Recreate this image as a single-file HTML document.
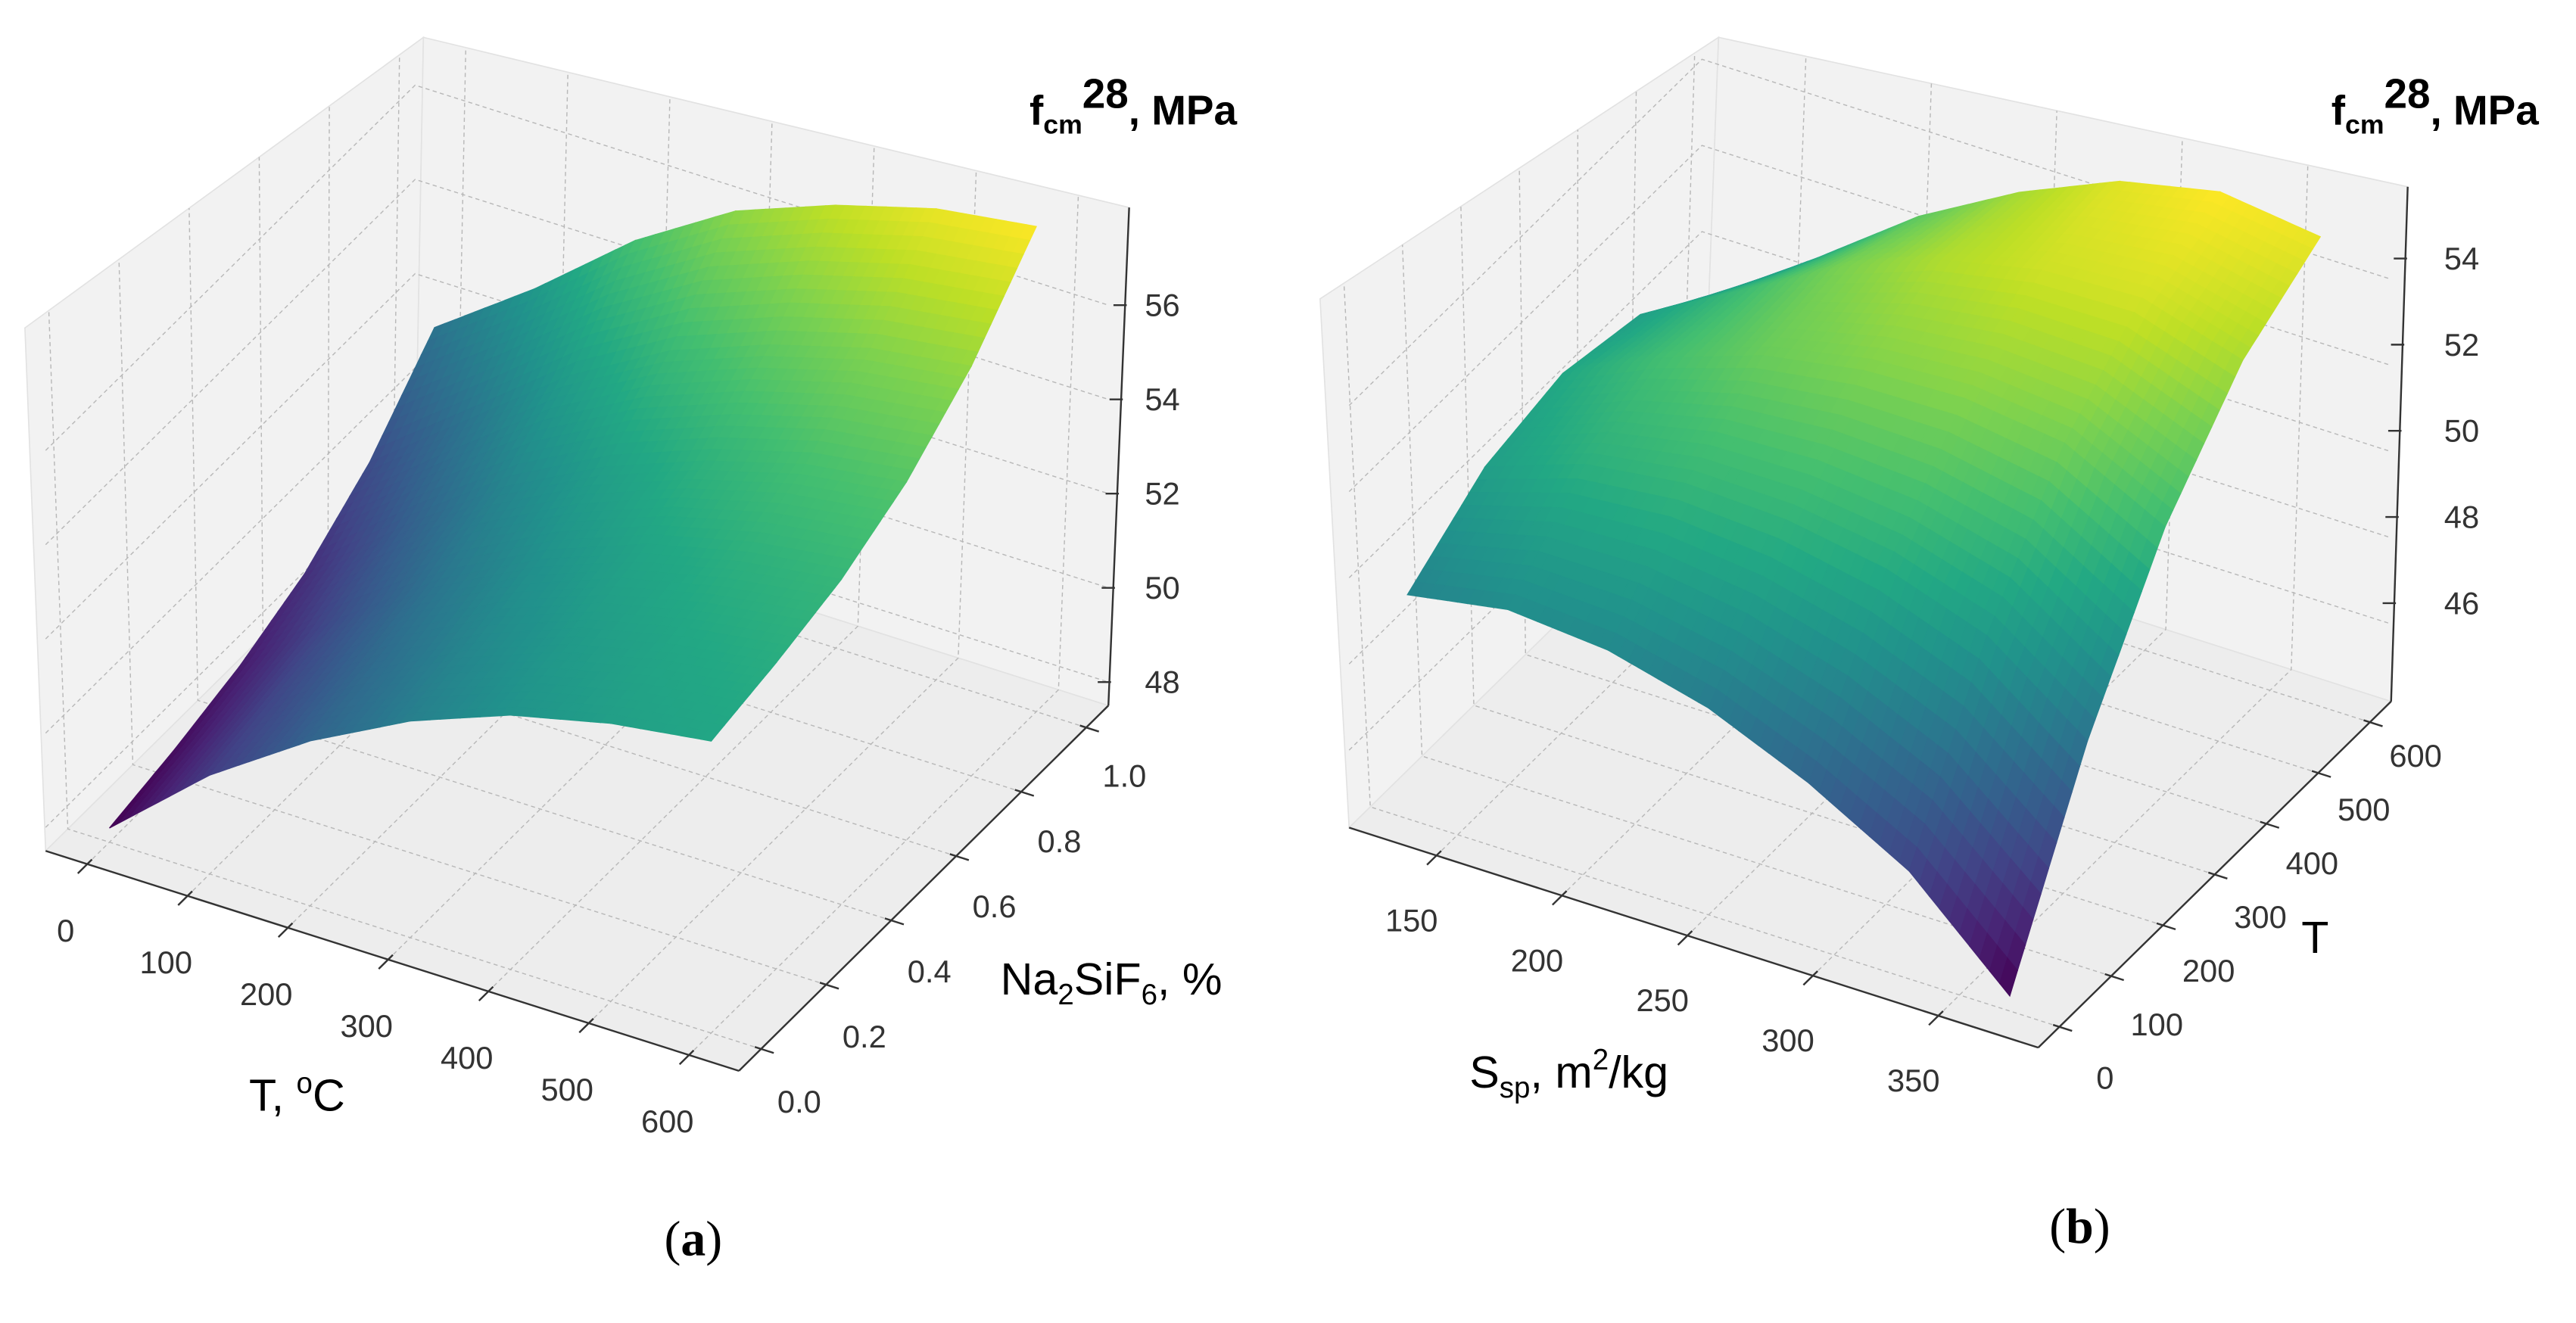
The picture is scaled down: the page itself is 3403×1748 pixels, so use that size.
<!DOCTYPE html>
<html><head><meta charset="utf-8"><style>
html,body{margin:0;padding:0;background:#fff;}
svg{display:block;}
text{font-family:"Liberation Sans",sans-serif;}
</style></head>
<body>
<svg id="chart" xmlns="http://www.w3.org/2000/svg" width="3403" height="1748" viewBox="0 0 3403 1748">
<rect width="3403" height="1748" fill="#fff"/>
<g id="pa" transform="scale(1.0968)"></g>
<g id="pb" transform="translate(1700,0) scale(1.0968)"></g>
</svg>
<script>
// ---- Panel (a) data ----
const tempA = [0, 100, 200, 300, 400, 500, 600];
const naA = [0, 0.2, 0.4, 0.6, 0.8, 1.0];
const zA = [
  [47.8, 49.6, 51.0, 52.1, 52.9, 53.4, 53.7],
  [48.1, 49.9, 51.3, 52.4, 53.2, 53.7, 54.0],
  [48.5, 50.2, 51.7, 52.8, 53.6, 54.1, 54.4],
  [49.1, 50.8, 52.3, 53.4, 54.2, 54.8, 55.1],
  [50.1, 51.7, 53.3, 54.5, 55.3, 55.9, 56.2],
  [51.6, 53.1, 54.8, 56.1, 56.9, 57.5, 57.8]
];
const tTicksA = [0, 100, 200, 300, 400, 500, 600];
const naTicksA = [0.0, 0.2, 0.4, 0.6, 0.8, 1.0];
const zTicksA = [48, 50, 52, 54, 56];
// ---- Panel (b) data ----
const sspB = [130, 170, 210, 250, 290, 330, 370];
const tempB = [0, 150, 300, 450, 600];
const zB = [
  [49.4, 49.8, 49.6, 49.0, 48.0, 46.7, 44.55],
  [50.6, 51.4, 51.7, 51.6, 51.2, 50.4, 48.7],
  [51.0, 52.1, 52.9, 53.3, 53.4, 53.1, 51.9],
  [50.6, 51.9, 53.2, 54.1, 54.6, 54.7, 54.0],
  [49.3, 50.9, 52.6, 53.9, 54.9, 55.4, 55.1]
];
const sTicksB = [150, 200, 250, 300, 350];
const tTicksB = [0, 100, 200, 300, 400, 500, 600];
const zTicksB = [46, 48, 50, 52, 54];

const NS = "http://www.w3.org/2000/svg";
const VIR = ["#440154","#482475","#414487","#355f8d","#2a788e","#21918c","#22a884","#44bf70","#7ad151","#bddf26","#fde725"];
function hex(c){return [parseInt(c.substr(1,2),16),parseInt(c.substr(3,2),16),parseInt(c.substr(5,2),16)];}
function viridis(t){
  t=Math.max(0,Math.min(1,t));const p=t*10,i=Math.min(9,Math.floor(p)),f=p-i;
  const a=hex(VIR[i]),b=hex(VIR[i+1]);
  return "rgb("+a.map((v,k)=>Math.round(v+(b[k]-v)*f)).join(",")+")";
}
function el(parent,tag,attrs){const e=document.createElementNS(NS,tag);for(const k in attrs)e.setAttribute(k,attrs[k]);parent.appendChild(e);return e;}

function makeProj(cfg){
  return function(f1,f2,z){
    return [cfg.O[0]+f1*cfg.a1[0]+f2*cfg.a2[0], cfg.O[1]+f1*cfg.a1[1]+f2*cfg.a2[1]-(z-cfg.zmin)*cfg.zs];
  };
}
function pts(a){return a.map(p=>p[0].toFixed(1)+","+p[1].toFixed(1)).join(" ");}

function drawBox(g,cfg,f1Ticks,f1Map,f2Ticks,f2Map,zTicks){
  const P=makeProj(cfg);
  const fl=P(0,0,cfg.zmin),fr=P(1,0,cfg.zmin),br=P(1,1,cfg.zmin),bl=P(0,1,cfg.zmin);
  const [tFL,tBL,tBR]=cfg.tops;
  const pl=el(g,"polygon",{points:pts([fl,bl,tBL,tFL]),fill:"#f2f2f2",stroke:"#e2e2e2","stroke-width":1.5});
  
  
  const pbk=el(g,"polygon",{points:pts([bl,br,tBR,tBL]),fill:"#f2f2f2",stroke:"#e2e2e2","stroke-width":1.5});
  
  
  const pf=el(g,"polygon",{points:pts([fl,fr,br,bl]),fill:"#ededed",stroke:"#e2e2e2","stroke-width":1.5});
  
  
  const gs={stroke:"#b8b8b8","stroke-width":1.3,"stroke-dasharray":"5,4",fill:"none"};
  const grid=el(g,"g",gs);
  
  
  const lerp=(a,b,t)=>[a[0]+(b[0]-a[0])*t,a[1]+(b[1]-a[1])*t];
  f1Ticks.forEach(v=>{const f=f1Map(v);
    const a=P(f,0,cfg.zmin),b=P(f,1,cfg.zmin),c=lerp(tBL,tBR,f);
    el(grid,"polyline",{points:pts([a,b,c])});});
  f2Ticks.forEach(v=>{const f=f2Map(v);
    const a=P(1,f,cfg.zmin),b=P(0,f,cfg.zmin),c=lerp(tFL,tBL,f);
    el(grid,"polyline",{points:pts([a,b,c])});});
  zTicks.forEach(z=>{
    el(grid,"polyline",{points:pts([P(0,0,z),P(0,1,z),P(1,1,z)])});});
  return P;
}

function drawAxes(g,cfg,P,f1Ticks,f1Map,f2Ticks,f2Map,zTicks,off1,off2,f2LabOff){
  const ax={stroke:"#333",fill:"none","stroke-width":2.2};
  const fl=P(0,0,cfg.zmin),fr=P(1,0,cfg.zmin),br=P(1,1,cfg.zmin);
  const l1=el(g,"line",Object.assign({x1:fl[0],y1:fl[1],x2:fr[0],y2:fr[1]},ax));
  
  
  const l2=el(g,"line",Object.assign({x1:fr[0],y1:fr[1],x2:br[0],y2:br[1]},ax));
  
  
  const zt=cfg.tops[2];
  const l3=el(g,"line",Object.assign({x1:br[0],y1:br[1],x2:zt[0],y2:zt[1]},ax));
  
  
  const n2=Math.hypot(cfg.a2[0],cfg.a2[1]),u2=[-cfg.a2[0]/n2,-cfg.a2[1]/n2];
  const n1=Math.hypot(cfg.a1[0],cfg.a1[1]),u1=[cfg.a1[0]/n1,cfg.a1[1]/n1];
  f1Ticks.forEach(v=>{const p=P(f1Map(v),0,cfg.zmin);
    el(g,"line",Object.assign({x1:p[0]-u2[0]*8,y1:p[1]-u2[1]*8,x2:p[0]+u2[0]*16,y2:p[1]+u2[1]*16},ax));
    const t=el(g,"text",{x:p[0]+off1[0],y:p[1]+off1[1],"font-size":38,fill:"#333","text-anchor":"middle","dominant-baseline":"central"});
    
    
    t.textContent=v;});
  f2Ticks.forEach((v,i)=>{const f=f2Map(v),p=P(1,f,cfg.zmin);
    el(g,"line",Object.assign({x1:p[0]-u1[0]*8,y1:p[1]-u1[1]*8,x2:p[0]+u1[0]*16,y2:p[1]+u1[1]*16},ax));
    const t=el(g,"text",{x:p[0]+off2[0],y:p[1]+off2[1]+f2LabOff*f,"font-size":38,fill:"#333","text-anchor":"middle","dominant-baseline":"central"});
    
    
    t.textContent=(f2Ticks[f2Ticks.length-1]<=1)?v.toFixed(1):v;});
  zTicks.forEach(z=>{const y=cfg.zBaseY-(z-cfg.zmin)*cfg.zs;
    const fr2=(br[1]-y)/(br[1]-zt[1]);const x=br[0]+(zt[0]-br[0])*fr2;
    el(g,"line",Object.assign({x1:x-14,y1:y,x2:x+2,y2:y},ax));
    const t=el(g,"text",{x:cfg.zLabX,y:y,"font-size":38,fill:"#333","text-anchor":"middle","dominant-baseline":"central"});
    
    
    t.textContent=z;});
}

function drawSurface(g,cfg,P,rowsF2,colsF1,Z){
  const all=Z.flat(),zlo=Math.min(...all),zhi=Math.max(...all);
  const quads=[];const N=10;
  for(let r=0;r<rowsF2.length-1;r++)for(let c=0;c<colsF1.length-1;c++){
    for(let i=0;i<N;i++)for(let j=0;j<N;j++){
      const corner=(a,b)=>{const za=Z[r][c]*(1-a)*(1-b)+Z[r][c+1]*a*(1-b)+Z[r+1][c]*(1-a)*b+Z[r+1][c+1]*a*b;
        const f1=colsF1[c]+(colsF1[c+1]-colsF1[c])*a,f2=rowsF2[r]+(rowsF2[r+1]-rowsF2[r])*b;return [f1,f2,za];};
      const q=[corner(i/N,j/N),corner((i+1)/N,j/N),corner((i+1)/N,(j+1)/N),corner(i/N,(j+1)/N)];
      const zc=(q[0][2]+q[1][2]+q[2][2]+q[3][2])/4;
      const key=(q[0][1]+q[2][1])/2-(q[0][0]+q[2][0])/2;
      quads.push({p:q.map(v=>P(v[0],v[1],v[2])),z:zc,key:key});
    }
  }
  quads.sort((a,b)=>b.key-a.key);
  const sg=el(g,"g",{});
  
  
  quads.forEach(q=>{const col=viridis((q.z-zlo)/(zhi-zlo));
    el(sg,"polygon",{points:pts(q.p),fill:col,stroke:col,"stroke-width":1.2});});
}

function addText(g,name,x,y,size,weight,parts,anchor,family){
  const t=el(g,"text",{x:x,y:y,"font-size":size,"font-weight":weight||"normal",fill:"#000","text-anchor":anchor||"start"});
  if(family)t.setAttribute("style","font-family:"+family);
  
  
  parts.forEach(p=>{const s=el(t,"tspan",{});
    if(p[1]==="sub"){s.setAttribute("font-size",size*0.65);s.setAttribute("dy",size*0.22);}
    if(p[1]==="sup"){s.setAttribute("font-size",size*0.65);s.setAttribute("dy",-size*0.4);}
    if(p[1]==="back"){s.setAttribute("dy",p[2]);}
    s.textContent=p[0];});
  return t;
}

// ---------- Panel A ----------
const cfgA={O:[55,1025],a1:[835,265],a2:[445,-440],zmin:47.5,zs:56.75,zBaseY:850,zLabX:1400,tops:[[30,395],[510,45],[1360,250]]};
const fTA=v=>0.06+0.868*v/600, fNA=v=>0.06+0.88*v;
const gA=document.getElementById("pa");
const PA=drawBox(gA,cfgA,tTicksA,fTA,naTicksA,fNA,zTicksA);
drawSurface(gA,cfgA,PA,naA.map(fNA),tempA.map(fTA),zA);
drawAxes(gA,cfgA,PA,tTicksA,fTA,naTicksA,fNA,zTicksA,[-26,80],[46,64],-6);
addText(gA,"x-axis-title",300,1338,54,"normal",[["T, "],["o","sup"],["C","back",54*0.4]]);
addText(gA,"y-axis-title",1205,1198,54,"normal",[["Na"],["2","sub"],["SiF","back",-54*0.22],["6","sub"],[", %","back",-54*0.22]]);
addText(gA,"z-axis-title",1240,150,50,"bold",[["f"],["cm","sub"],["28","back",-50*0.62],[", MPa","back",50*0.4]]);
addText(gA,"caption-a",835,1512,60,"normal",[["("],["a"],[")"]],"middle","'Liberation Serif',serif");
gA.lastChild.children[1].setAttribute("font-weight","bold");

// ---------- Panel B ----------
const cfgB={O:[75,997],a1:[830,265],a2:[425,-417],zmin:44.2,zs:51.9,zBaseY:820,zLabX:1415,tops:[[40,360],[520,45],[1350,225]]};
const fSB=v=>(v-115.2)/274.6, fTB=v=>0.06+0.88*v/600;
const gB=document.getElementById("pb");
const PB=drawBox(gB,cfgB,sTicksB,fSB,tTicksB,fTB,zTicksB);
drawSurface(gB,cfgB,PB,tempB.map(fTB),sspB.map(fSB),zB);
drawAxes(gB,cfgB,PB,sTicksB,fSB,tTicksB,fTB,zTicksB,[-30,78],[55,63],-24);
addText(gB,"x-axis-title",220,1310,54,"normal",[["S"],["sp","sub"],[", m","back",-54*0.22],["2","sup"],["/kg","back",54*0.4]]);
addText(gB,"y-axis-title",1222,1148,54,"normal",[["T"]]);
addText(gB,"z-axis-title",1258,150,50,"bold",[["f"],["cm","sub"],["28","back",-50*0.62],[", MPa","back",50*0.4]]);
addText(gB,"caption-b",955,1497,60,"normal",[["("],["b"],[")"]],"middle","'Liberation Serif',serif");
gB.lastChild.children[1].setAttribute("font-weight","bold");
</script>
</body></html>
